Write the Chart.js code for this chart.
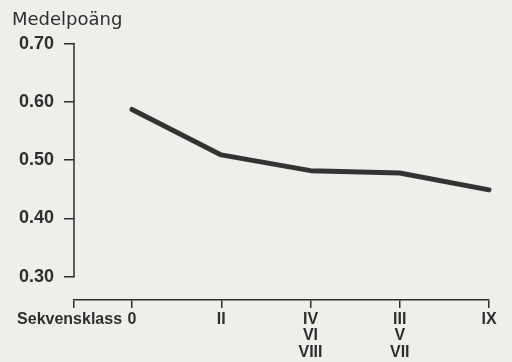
<!DOCTYPE html>
<html>
<head>
<meta charset="utf-8">
<script src="https://cdn.jsdelivr.net/npm/chart.js@4.4.0/dist/chart.umd.min.js"></script>
<style>
    html, body { margin: 0; padding: 0; background: #eeefea; }
    #wrap { width: 512px; height: 362px; position: relative; }
</style>
</head>
<body>
<div id="wrap"><canvas id="medelChart"></canvas></div>
<script>
// DATA --------------------------
const klassPos = [0, 1, 2, 3, 4];
const klassLabels = ['0', 'II', ['IV', 'VI', 'VIII'], ['III', 'V', 'VII'], 'IX'];
const medelpoang = [0.587, 0.509, 0.482, 0.478, 0.449];
const yTicks = [0.30, 0.40, 0.50, 0.60, 0.70];
const axelStart = -0.65;                 // vänstra änden av x-axeln
const startLabel = 'Sekvensklass  ';

const INK = '#2e2e2e';
const FONT = "'Liberation Sans', Arial, sans-serif";

// ritar y-axeln bara mellan 0.30 och 0.70 (som i originalet)
const yAxisLine = {
    id: 'yAxisLine',
    afterDraw(chart) {
        const y = chart.scales.y;
        const ctx = chart.ctx;
        ctx.save();
        ctx.strokeStyle = INK;
        ctx.lineWidth = 1.5;
        ctx.lineCap = 'square';
        ctx.beginPath();
        ctx.moveTo(y.right, y.getPixelForValue(yTicks[yTicks.length - 1]));
        ctx.lineTo(y.right, y.getPixelForValue(yTicks[0]));
        ctx.stroke();
        ctx.restore();
    }
};

document.addEventListener('DOMContentLoaded', () => {
    const ctx = document.getElementById('medelChart').getContext('2d');
    new Chart(ctx, {
        type: 'line',
        data: {
            datasets: [{
                label: 'Medelpoäng',
                data: klassPos.map((x, i) => ({ x: x, y: medelpoang[i] })),
                borderColor: '#333333',
                borderWidth: 5,
                borderCapStyle: 'round',
                borderJoinStyle: 'round',
                pointRadius: 0,
                tension: 0,
                fill: false,
                clip: false
            }]
        },
        options: {
            responsive: true,
            maintainAspectRatio: false,
            animation: false,
            layout: { padding: { left: 12, right: 23, top: 0, bottom: 0 } },
            plugins: {
                legend: { display: false },
                tooltip: { enabled: false },
                title: {
                    display: true,
                    text: 'Medelpoäng',
                    align: 'start',
                    color: INK,
                    font: { family: "'DejaVu Sans', sans-serif", size: 18, weight: 'normal' },
                    padding: { top: 10, bottom: 12 }
                }
            },
            scales: {
                x: {
                    type: 'linear',
                    min: axelStart,
                    max: 4,
                    afterBuildTicks: (scale) => {
                        scale.ticks = [axelStart, ...klassPos].map(v => ({ value: v }));
                    },
                    afterFit: (scale) => { scale.height = 62; },
                    ticks: {
                        autoSkip: false,
                        maxRotation: 0,
                        padding: 3,
                        color: INK,
                        font: { family: FONT, size: 16, weight: 'bold', lineHeight: 1.03 },
                        callback: (value, index) => index === 0 ? startLabel : klassLabels[index - 1]
                    },
                    grid: { drawOnChartArea: false, drawTicks: true, tickLength: 8, color: INK, lineWidth: 1.5 },
                    border: { display: true, color: INK, width: 1.5 }
                },
                y: {
                    min: 0.26,
                    max: 0.70,
                    afterBuildTicks: (scale) => {
                        scale.ticks = yTicks.map(v => ({ value: v }));
                    },
                    afterFit: (scale) => { scale.width = 62; },
                    ticks: {
                        padding: 10,
                        color: INK,
                        font: { family: FONT, size: 18, weight: 'bold' },
                        callback: (value) => Number(value).toFixed(2)
                    },
                    grid: { drawOnChartArea: false, drawTicks: true, tickLength: 10, color: INK, lineWidth: 1.5 },
                    border: { display: false }
                }
            }
        },
        plugins: [yAxisLine]
    });
});
</script>
</body>
</html>
